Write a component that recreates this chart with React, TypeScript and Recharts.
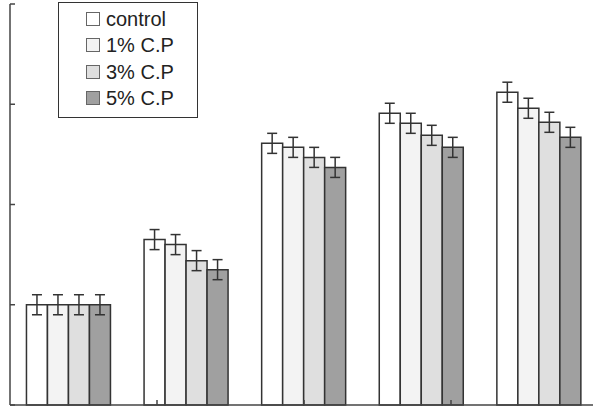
import { BarChart, Bar, XAxis, YAxis, ErrorBar, Legend } from 'recharts'

// Five sampling points, four treatment levels
const groups = ['1', '2', '3', '4', '5']
const seriesNames = ['control', '1% C.P', '3% C.P', '5% C.P']
const seriesFills = ['#ffffff', '#f3f3f3', '#dfdfdf', '#a0a0a0']

const control = [1.0, 1.65, 2.61, 2.91, 3.12]
const cp1 = [1.0, 1.6, 2.57, 2.81, 2.96]
const cp3 = [1.0, 1.44, 2.47, 2.69, 2.82]
const cp5 = [1.0, 1.35, 2.37, 2.57, 2.67]

const controlErr = [0.1, 0.1, 0.1, 0.1, 0.1]
const cp1Err = [0.1, 0.1, 0.1, 0.1, 0.1]
const cp3Err = [0.1, 0.1, 0.1, 0.1, 0.1]
const cp5Err = [0.1, 0.1, 0.1, 0.1, 0.1]

const yTicks = [0, 1, 2, 3, 4]
const groupEdges = [1, 2, 3, 4]

const values = [control, cp1, cp3, cp5]
const errors = [controlErr, cp1Err, cp3Err, cp5Err]

const data = groups.map((g, i) => {
  const row: Record<string, number | string> = { group: g }
  seriesNames.forEach((name, s) => {
    row[name] = values[s][i]
    row[`${name}_err`] = errors[s][i]
  })
  return row
})

const FONT = '"Liberation Sans", Arial, sans-serif'
const AXIS = { stroke: '#444', strokeWidth: 1.5 }

function LegendBox() {
  return (
    <div
      style={{
        width: 138,
        height: 111,
        border: '1.5px solid #333',
        background: '#fff',
        boxSizing: 'content-box',
        paddingTop: 3,
        fontFamily: FONT,
      }}
    >
      {seriesNames.map((name, i) => (
        <div
          key={name}
          style={{ display: 'flex', alignItems: 'center', height: 26.3, paddingLeft: 27 }}
        >
          <span
            style={{
              width: 12,
              height: 12,
              border: '1.5px solid #666',
              background: seriesFills[i],
              marginRight: 6,
              display: 'inline-block',
            }}
          />
          <span style={{ fontSize: 20, color: '#222', lineHeight: '20px' }}>{name}</span>
        </div>
      ))}
    </div>
  )
}

export default function App() {
  return (
    <div style={{ width: 593, height: 414, overflow: 'hidden', background: '#fff' }}>
      <style>{'body{margin:0}'}</style>
      <BarChart
        width={610}
        height={414}
        data={data}
        margin={{ top: 4, right: 12, bottom: 8, left: 10 }}
        barCategoryGap="14%"
        barGap={0}
      >
        <XAxis
          dataKey="group"
          height={1}
          axisLine={AXIS}
          tickLine={false}
          tickFormatter={() => ''}
        />
        <XAxis
          xAxisId="edges"
          type="number"
          domain={[0, 5]}
          ticks={groupEdges}
          height={1}
          mirror
          axisLine={false}
          tickSize={5}
          tickLine={AXIS}
          tickFormatter={() => ''}
        />
        <YAxis
          domain={[0, 4]}
          ticks={yTicks}
          width={1}
          mirror
          tickSize={5}
          axisLine={AXIS}
          tickLine={AXIS}
          tickFormatter={() => ''}
        />
        <Legend
          layout="vertical"
          verticalAlign="middle"
          align="center"
          wrapperStyle={{ left: 58, top: 2, width: 'auto' }}
          content={() => <LegendBox />}
        />
        {seriesNames.map((name, i) => (
          <Bar
            key={name}
            dataKey={name}
            fill={seriesFills[i]}
            stroke="#333"
            strokeWidth={1.5}
            isAnimationActive={false}
          >
            <ErrorBar dataKey={`${name}_err`} width={5} stroke="#333" strokeWidth={1.5} />
          </Bar>
        ))}
      </BarChart>
    </div>
  )
}
